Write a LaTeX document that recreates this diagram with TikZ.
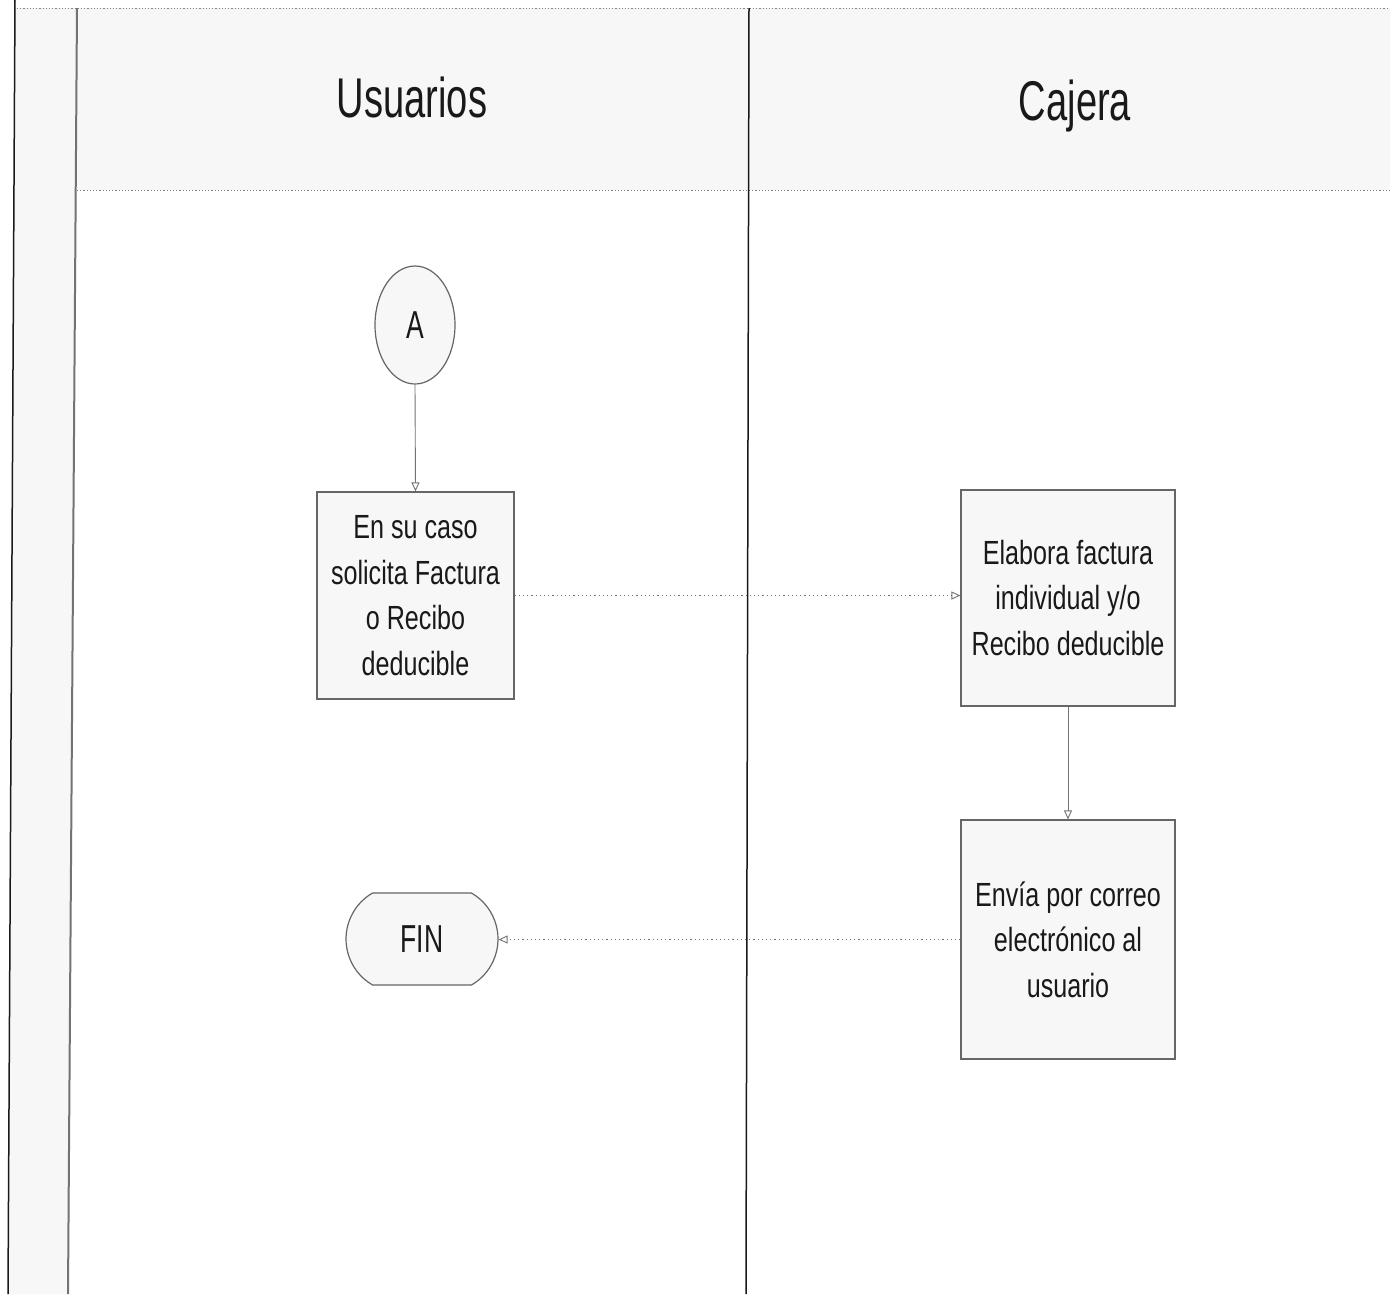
\documentclass[tikz,border=0pt]{standalone}
\usepackage{fontspec}
\setmainfont{Liberation Sans}
\newfontfamily\headfont{Liberation Sans}[FakeStretch=0.68]
\newfontfamily\boxfont{Liberation Sans}[FakeStretch=0.75]
\usetikzlibrary{arrows.meta,shapes.geometric,shapes.misc}
\begin{document}
\begin{tikzpicture}[x=1pt,y=-1pt,
  shade/.style={fill=black!3},
  laneline/.style={draw=black!90, line width=1.5pt},
  striplineline/.style={draw=black!55, line width=2pt},
  dotline/.style={draw=black!50, line width=1pt, dash pattern=on 1.2pt off 2pt},
  lanetitle/.style={font=\headfont\fontsize{56}{60}\selectfont, text=black!90, anchor=base},
  procbox/.style={draw=black!60, line width=1.2pt, fill=black!3, align=center,
    inner sep=0pt, text=black!90, font=\boxfont\fontsize{33.5}{45.5}\selectfont},
  connector/.style={ellipse, draw=black!60, line width=1.2pt, fill=black!3,
    minimum width=80pt, minimum height=118pt, inner sep=0pt,
    font=\headfont\fontsize{39}{42}\selectfont, text=black!90},
  terminal/.style={rounded rectangle, rounded rectangle arc length=120,
    draw=black!60, line width=1.2pt, fill=black!3, minimum width=152pt,
    minimum height=92pt, inner sep=0pt,
    font=\headfont\fontsize{39}{42}\selectfont, text=black!90},
  flow/.style={draw=black!55, line width=0.9pt,
    -{Triangle[open,length=9pt,width=8pt]}},
  dotflow/.style={flow, dash pattern=on 1.2pt off 3pt}
]
\useasboundingbox (0,0) rectangle (1390,1294);
\fill[white] (0,0) rectangle (1390,1294);
% shaded header and left strip
\path[shade] (77,8) rectangle (1390,190);
\path[shade] (15,8) -- (77,8) -- (68,1294) -- (8,1294) -- cycle;
% lane lines
\draw[dotline] (17,8) -- (1390,8);
\draw[dotline] (77,190) -- (1390,190);
\draw[laneline] (15,0) -- (8,1294);
\draw[striplineline] (77,8) -- (68,1294);
\draw[laneline] (749,8) -- (746,1294);
% titles
\node[lanetitle] (tusr) at (412,117) {Usuarios};
\node[lanetitle] (tcaj) at (1075,120) {Cajera};
% nodes
\node[connector] (A) at (415,325) {A};
\node[procbox, minimum width=197pt, minimum height=207pt] (b1) at (415.5,595.5)
  {En su caso\\solicita Factura\\o Recibo\\deducible};
\node[procbox, minimum width=214pt, minimum height=216pt] (b2) at (1068,598)
  {Elabora factura\\individual y/o\\Recibo deducible};
\node[procbox, minimum width=214pt, minimum height=239pt] (b3) at (1068,939.5)
  {Envía por correo\\electrónico al\\usuario};
\node[terminal] (fin) at (422,939) {FIN};
% connectors
\draw[flow] (A.south) -- (b1.north);
\draw[dotflow] (b1.east) -- (b1.east -| b2.west);
\draw[flow] (b2.south) -- (b3.north);
\draw[dotflow] (b3.west) -- (b3.west -| fin.east);
\end{tikzpicture}
\end{document}
